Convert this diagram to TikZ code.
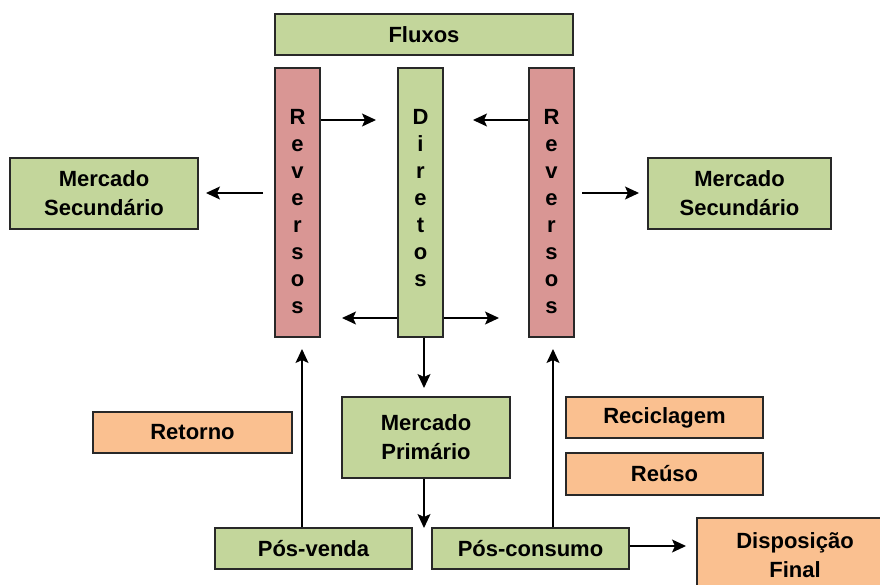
\documentclass[tikz,border=0pt]{standalone}
\usepackage{fontspec}
\setmainfont{Liberation Sans}
\usetikzlibrary{arrows.meta}
\definecolor{gfill}{RGB}{195,214,155}
\definecolor{rfill}{RGB}{217,150,148}
\definecolor{ofill}{RGB}{250,192,144}
\definecolor{edge}{RGB}{40,40,40}
\tikzset{
  box/.style={draw=edge, line width=1.4pt, rectangle, inner sep=0pt, align=center,
    font=\fontsize{22}{29}\selectfont\bfseries},
  gbox/.style={box, fill=gfill},
  rbox/.style={box, fill=rfill},
  obox/.style={box, fill=ofill},
  vtext/.style={inner sep=0pt, align=center, anchor=north,
    font=\fontsize{22}{27}\selectfont\bfseries},
  arr/.style={line width=1.3pt, draw=black, -{Stealth[length=14pt,width=13pt,inset=3pt]}},
  ln/.style={line width=1.3pt, draw=black}
}
\begin{document}
\begin{tikzpicture}[x=1pt,y=-1pt]
\useasboundingbox (0,0) rectangle (880,584);
% boxes
\node[gbox, minimum width=298, minimum height=41] (flux) at (424,34.5) {Fluxos};
\node[rbox, minimum width=45, minimum height=269] (revL) at (297.5,202.5) {};
\node[gbox, minimum width=45, minimum height=269] (dir) at (420.5,202.5) {};
\node[rbox, minimum width=45, minimum height=269] (revR) at (551.5,202.5) {};
\node[vtext] (tRevL) at (297.5,109) {R\\e\\v\\e\\r\\s\\o\\s};
\node[vtext] (tDir) at (420.5,109) {D\\i\\r\\e\\t\\o\\s};
\node[vtext] (tRevR) at (551.5,109) {R\\e\\v\\e\\r\\s\\o\\s};
\node[gbox, minimum width=188, minimum height=71] (msL) at (104,193.5) {Mercado\\Secundário};
\node[gbox, minimum width=183, minimum height=71] (msR) at (739.5,193.5) {Mercado\\Secundário};
\node[gbox, minimum width=168, minimum height=81] (mp) at (426,437.5) {Mercado\\Primário};
\node[obox, minimum width=199, minimum height=41] (ret) at (192.5,432.5) {Retorno};
\node[obox, minimum width=197, minimum height=41] (rec) at (664.5,417.5) {Reciclagem};
\node[obox, minimum width=197, minimum height=42] (reu) at (664.5,474) {Reúso};
\node[gbox, minimum width=197, minimum height=41] (pv) at (313.5,548.5) {Pós-venda};
\node[gbox, minimum width=197, minimum height=41] (pc) at (530.5,548.5) {Pós-consumo};
\node[obox, minimum width=196, minimum height=74] (disp) at (795,555) {Disposição\\Final};
% free ends
\coordinate (c1) at (376,120);
\coordinate (c2) at (473,120);
\coordinate (c3t) at (263,193);
\coordinate (c3) at (206,193);
\coordinate (c4t) at (582,193);
\coordinate (c4) at (639,193);
\coordinate (c5) at (342,318);
\coordinate (c6) at (499,318);
\coordinate (c7) at (424,388);
\coordinate (c8) at (424,528);
\coordinate (c9) at (302,349);
\coordinate (c10) at (553,349);
\coordinate (c11) at (686,546);
% connectors
\draw[arr] (c1 -| revL.east) -- (c1);
\draw[arr] (c2 -| revR.west) -- (c2);
\draw[arr] (c3t) -- (c3);
\draw[arr] (c4t) -- (c4);
\draw[arr] (c5 -| dir.west) -- (c5);
\draw[arr] (c6 -| dir.east) -- (c6);
\draw[arr] (c7 |- dir.south) -- (c7);
\draw[arr] (c8 |- mp.south) -- (c8);
\draw[arr] (c9 |- pv.north) -- (c9);
\draw[arr] (c10 |- pc.north) -- (c10);
\draw[arr] (c11 -| pc.east) -- (c11);
\end{tikzpicture}
\end{document}
